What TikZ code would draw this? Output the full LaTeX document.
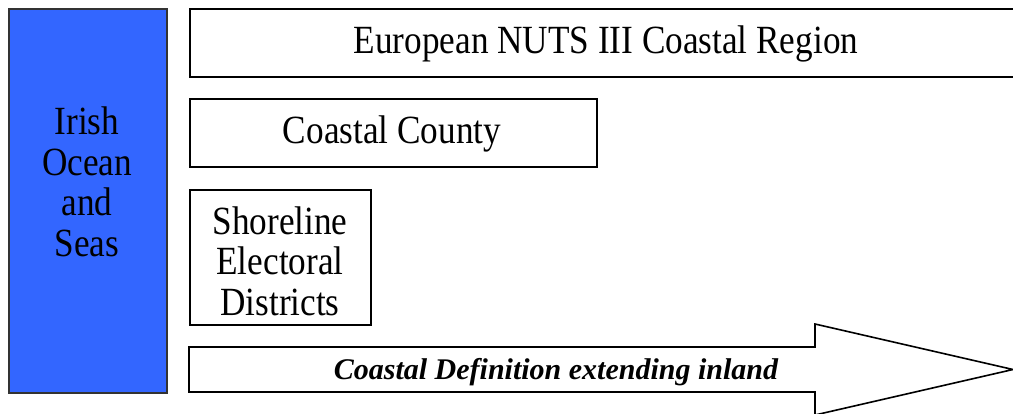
\documentclass[tikz,border=0pt]{standalone}
\usepackage{fontspec}
\setmainfont{Liberation Serif}
\newfontfamily\narrowserif{Liberation Serif}[FakeStretch=0.88]
\definecolor{seablue}{HTML}{3366FF}
\begin{document}
\begin{tikzpicture}[x=1pt,y=-1pt,
  box/.style={draw=black,line width=1.6pt,fill=white,inner sep=0pt,anchor=north west},
  bigtext/.style={font=\narrowserif\fontsize{40}{40.5}\selectfont,align=center,inner sep=0pt}]
\useasboundingbox (0,0) rectangle (1013,413);
\node[box,fill=seablue,draw=black!80,minimum width=158pt,minimum height=384pt] (sea) at (8,8) {};
\node[bigtext] (seatext) at (87,182) {Irish\\Ocean\\and\\Seas};
\node[box,minimum width=832pt,minimum height=68pt] (nuts) at (189,8) {};
\node[bigtext] (nutstext) at (606,44) {European NUTS III Coastal Region};
\node[box,minimum width=407pt,minimum height=68pt] (county) at (189,98) {};
\node[bigtext] (countytext) at (392,134) {Coastal County};
\node[box,minimum width=181pt,minimum height=135pt] (shore) at (189,189) {};
\node[bigtext] (shoretext) at (280,261) {Shoreline\\Electoral\\Districts};
\coordinate (tip) at (1013,369.5);
\draw[line width=1.6pt,fill=white,line join=miter] (189,347) -- (815,347) -- (815,324) -- (tip) -- (815,415) -- (815,392) -- (189,392) -- cycle;
\node[font=\fontsize{30}{34}\selectfont\bfseries\itshape,inner sep=0pt] (arrowtext) at (556,372) {Coastal Definition extending inland};
\end{tikzpicture}
\end{document}
